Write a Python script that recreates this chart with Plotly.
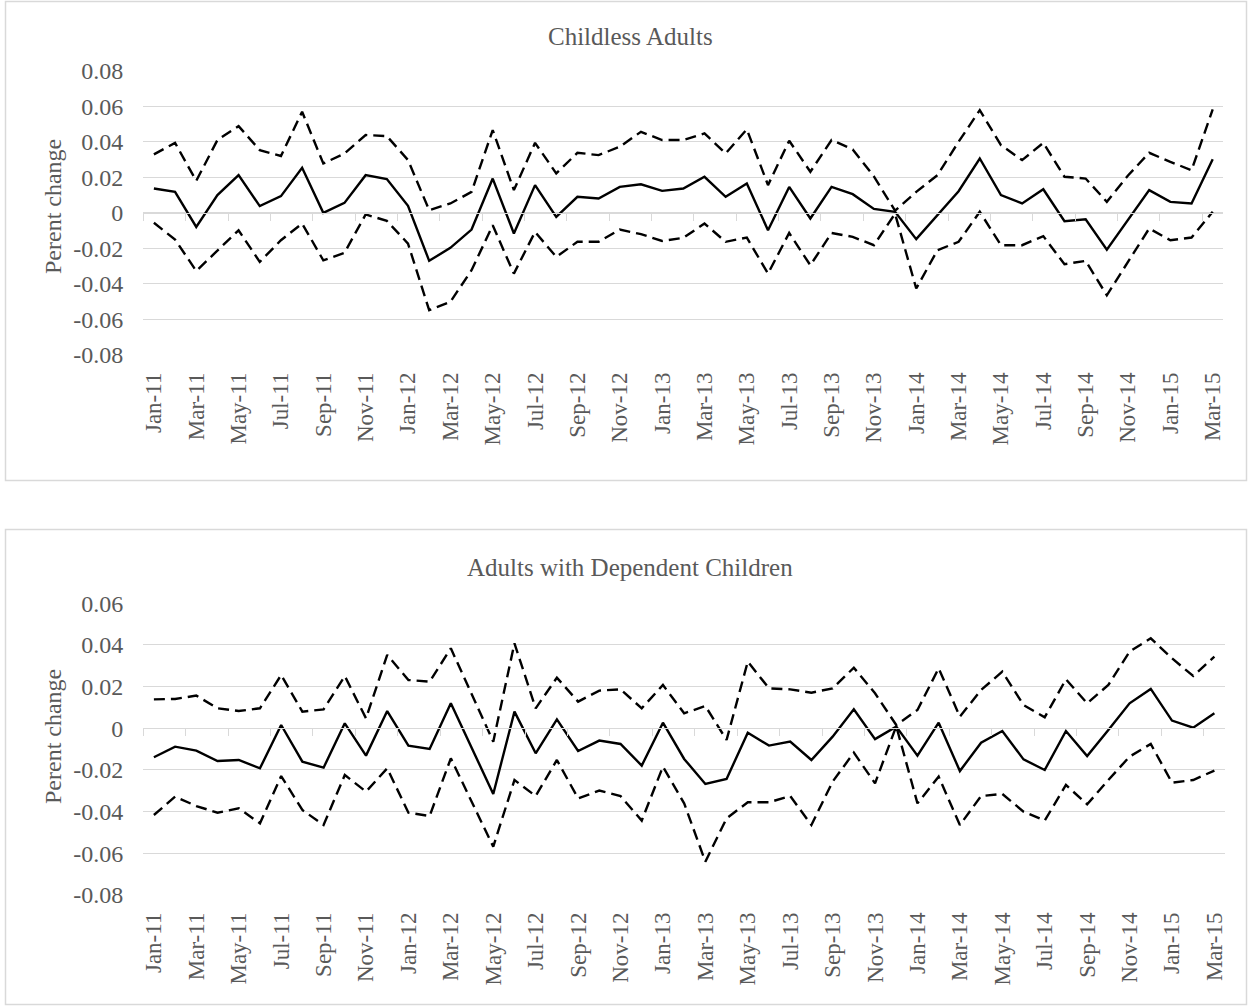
import plotly.graph_objects as go

# ---------------- data ----------------
month_names = ["Jan", "Feb", "Mar", "Apr", "May", "Jun", "Jul", "Aug", "Sep", "Oct", "Nov", "Dec"]
years = ["11", "12", "13", "14", "15"]
months = [f"{m}-{y}" for y in years for m in month_names][:51]   # Jan-11 .. Mar-15
tick_labels = months[::2]

# Childless Adults
ca_est = [0.0137, 0.0118, -0.0079, 0.010, 0.0212, 0.0038, 0.0094, 0.0254, 0.0, 0.0056,
          0.0212, 0.019, 0.004, -0.027, -0.0197, -0.0094, 0.0193, -0.0116, 0.0156, -0.0023,
          0.009, 0.0081, 0.0146, 0.0161, 0.0124, 0.0137, 0.0203, 0.009, 0.0165, -0.0098,
          0.0146, -0.0032, 0.0146, 0.0105, 0.0022, 0.0006, -0.0148, -0.0013, 0.0122, 0.0306,
          0.010, 0.0053, 0.0133, -0.0047, -0.0036, -0.0207, -0.0038, 0.0128, 0.0062, 0.0053,
          0.0302]
ca_upper = [0.0329, 0.0394, 0.018, 0.041, 0.0488, 0.0353, 0.032, 0.0569, 0.0278, 0.0334,
            0.0438, 0.0432, 0.0297, 0.0015, 0.0053, 0.0118, 0.0466, 0.0128, 0.0394, 0.0222,
            0.0338, 0.0325, 0.0372, 0.0456, 0.041, 0.041, 0.0447, 0.0334, 0.047, 0.0156,
            0.0406, 0.0231, 0.041, 0.0357, 0.0205, 0.0012, 0.0118, 0.0212, 0.040, 0.0578,
            0.0381, 0.0297, 0.0394, 0.0203, 0.0193, 0.0062, 0.021, 0.0338, 0.0287, 0.024,
            0.0582]
ca_lower = [-0.0056, -0.015, -0.0327, -0.021, -0.0098, -0.0276, -0.0154, -0.006, -0.0267, -0.0225,
            -0.0009, -0.0045, -0.0173, -0.0548, -0.0501, -0.0323, -0.007, -0.0342, -0.0107, -0.0248,
            -0.0163, -0.0163, -0.0094, -0.012, -0.0158, -0.0141, -0.006, -0.0163, -0.0139, -0.0342,
            -0.0113, -0.0295, -0.0113, -0.0135, -0.0182, -0.0005, -0.0426, -0.021, -0.0163, 0.0006,
            -0.0182, -0.0182, -0.0131, -0.0289, -0.027, -0.0464, -0.0276, -0.0088, -0.0154, -0.0139,
            0.0006]

# Adults with Dependent Children
dc_est = [-0.0139, -0.0088, -0.0107, -0.0157, -0.0152, -0.0192, 0.0016, -0.016, -0.0189, 0.0024,
          -0.0131, 0.0083, -0.0083, -0.0099, 0.012, -0.0098, -0.0315, 0.008, -0.012, 0.0043,
          -0.0109, -0.0059, -0.0075, -0.0179, 0.0027, -0.0147, -0.0267, -0.0243, -0.0021, -0.0083,
          -0.0064, -0.0152, -0.004, 0.0091, -0.0052, 0.0008, -0.0131, 0.0027, -0.0205, -0.0069,
          -0.0013, -0.0149, -0.02, -0.0013, -0.0133, -0.0008, 0.012, 0.0189, 0.0037, 0.0003,
          0.0072]
dc_upper = [0.0139, 0.0141, 0.0157, 0.0096, 0.0083, 0.0096, 0.0256, 0.008, 0.0091, 0.0251,
            0.0048, 0.0352, 0.0232, 0.0224, 0.0384, 0.016, -0.0064, 0.0408, 0.0096, 0.0243,
            0.0128, 0.0181, 0.0187, 0.0096, 0.0208, 0.0072, 0.0107, -0.0056, 0.032, 0.0192,
            0.0187, 0.0171, 0.0192, 0.0291, 0.0168, 0.0016, 0.0088, 0.0288, 0.0056, 0.0184,
            0.0272, 0.0112, 0.0053, 0.0235, 0.012, 0.0208, 0.0368, 0.0432, 0.0336, 0.0251,
            0.0344]
dc_lower = [-0.0416, -0.0328, -0.0373, -0.0405, -0.0384, -0.0456, -0.0229, -0.0392, -0.0464, -0.0224,
            -0.0304, -0.0192, -0.0405, -0.0421, -0.0144, -0.0355, -0.0568, -0.0248, -0.0325, -0.0152,
            -0.0336, -0.0299, -0.0325, -0.0443, -0.0184, -0.036, -0.064, -0.0432, -0.0355, -0.0355,
            -0.0325, -0.0464, -0.0256, -0.0117, -0.0264, 0.0010, -0.036, -0.0232, -0.0464, -0.0325,
            -0.0315, -0.04, -0.0443, -0.0272, -0.0365, -0.0248, -0.0136, -0.0075, -0.0261, -0.0248,
            -0.0203]

titles = ["Childless Adults", "Adults with Dependent Children"]
y_title = "Perent change"
top_yticks = [-0.08, -0.06, -0.04, -0.02, 0, 0.02, 0.04, 0.06, 0.08]
bot_yticks = [-0.08, -0.06, -0.04, -0.02, 0, 0.02, 0.04, 0.06]
top_ytext = ["-0.08", "-0.06", "-0.04", "-0.02", "0", "0.02", "0.04", "0.06", "0.08"]
bot_ytext = ["-0.08", "-0.06", "-0.04", "-0.02", "0", "0.02", "0.04", "0.06"]

# ---------------- layout geometry (pixels) ----------------
W, H = 1252, 1006
def px(x): return x / W
def py(y): return 1 - y / H

FONT = "Liberation Serif, Times New Roman, serif"
TXT = "#595959"
GRID = "#d9d9d9"
FS_Y = 24
FS_X = 23
FS_T = 25

panels = [
    dict(est=ca_est, up=ca_upper, lo=ca_lower, x0=143.3, x1=1223.3, ytop=70.7, ybot=355.0,
         rng=[-0.08, 0.08], tv=top_yticks, tt=top_ytext, title_y=37, ytitle_y=206.5,
         box=(5.5, 1.5, 1246.5, 480.5)),
    dict(est=dc_est, up=dc_upper, lo=dc_lower, x0=143.3, x1=1225.0, ytop=603.3, ybot=895.0,
         rng=[-0.08, 0.06], tv=bot_yticks, tt=bot_ytext, title_y=567, ytitle_y=736.5,
         box=(5.5, 529.5, 1246.5, 1004.5)),
]

fig = go.Figure()
layout = dict(width=W, height=H, margin=dict(l=0, r=0, t=0, b=0),
              paper_bgcolor="white", plot_bgcolor="white", showlegend=False,
              font=dict(family=FONT, color=TXT, size=FS_Y))
shapes, annotations = [], []

for k, p in enumerate(panels):
    xa = "x" if k == 0 else "x2"
    ya = "y" if k == 0 else "y2"
    xt = "x3" if k == 0 else "x4"          # overlay axis carrying the zero-line ticks
    dash_line = dict(color="black", width=2.4, dash="11px,6px")
    fig.add_trace(go.Scatter(x=months, y=p["up"], mode="lines", line=dash_line, xaxis=xa, yaxis=ya))
    fig.add_trace(go.Scatter(x=months, y=p["lo"], mode="lines", line=dash_line, xaxis=xa, yaxis=ya))
    fig.add_trace(go.Scatter(x=months, y=p["est"], mode="lines",
                             line=dict(color="black", width=2.4), xaxis=xa, yaxis=ya))
    fig.add_trace(go.Scatter(x=[], y=[], xaxis=xt, yaxis=ya, hoverinfo="skip"))

    xdom = [px(p["x0"]), px(p["x1"])]
    ydom = [py(p["ybot"]), py(p["ytop"])]
    r0, r1 = p["rng"]
    zero_pos = ydom[0] + (0 - r0) / (r1 - r0) * (ydom[1] - ydom[0])

    xname = "xaxis" if k == 0 else "xaxis2"
    yname = "yaxis" if k == 0 else "yaxis2"
    tname = "xaxis3" if k == 0 else "xaxis4"
    layout[xname] = dict(domain=xdom, anchor=ya, type="category", range=[-0.5, 50.5],
                         tickmode="array", tickvals=tick_labels, ticktext=tick_labels,
                         tickangle=-90, ticks="", showgrid=False, showline=False, zeroline=False,
                         ticklabelstandoff=12, automargin=False,
                         tickfont=dict(family=FONT, color=TXT, size=FS_X))
    layout[yname] = dict(domain=ydom, anchor=xa, range=p["rng"], tickmode="array",
                         tickvals=p["tv"], ticktext=p["tt"], showgrid=True, gridcolor=GRID,
                         gridwidth=1.3, zeroline=False, showline=False, ticks="",
                         ticklabelstandoff=19, automargin=False,
                         tickfont=dict(family=FONT, color=TXT, size=FS_Y))
    layout[tname] = dict(overlaying=xa, anchor="free", position=zero_pos, range=[-0.5, 50.5],
                         type="linear", tickmode="array",
                         tickvals=[i - 0.5 for i in range(0, 51, 2)],
                         ticks="outside", ticklen=7, tickwidth=1.3, tickcolor=GRID,
                         showticklabels=False, showline=True, linecolor=GRID, linewidth=1.3,
                         showgrid=False, zeroline=False)

    bx0, by0, bx1, by1 = p["box"]
    shapes.append(dict(type="rect", xref="paper", yref="paper", x0=px(bx0), x1=px(bx1),
                       y0=py(by1), y1=py(by0), line=dict(color=GRID, width=1.5), layer="below"))
    annotations.append(dict(text=titles[k], xref="paper", yref="paper", x=px(630), y=py(p["title_y"]),
                            xanchor="center", yanchor="middle", showarrow=False,
                            font=dict(family=FONT, color=TXT, size=FS_T)))
    annotations.append(dict(text=y_title, xref="paper", yref="paper", x=px(52.5),
                            y=py(p["ytitle_y"]), textangle=-90,
                            xanchor="center", yanchor="middle", showarrow=False,
                            font=dict(family=FONT, color=TXT, size=FS_Y)))

layout["shapes"] = shapes
layout["annotations"] = annotations
fig.update_layout(**layout)
fig.write_html("out.html", config={"displayModeBar": False},
               post_script="document.body.style.margin='0';")
